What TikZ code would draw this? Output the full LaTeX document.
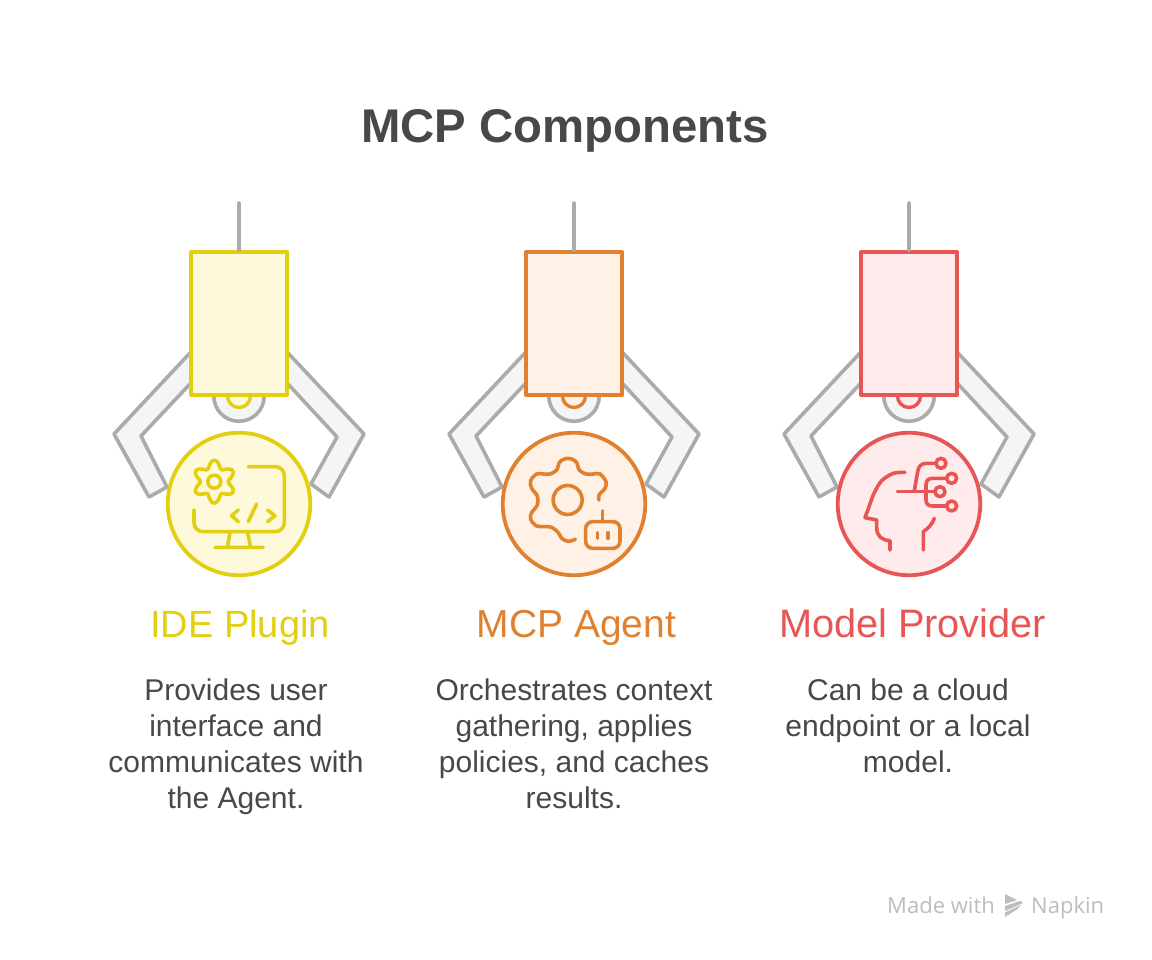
\documentclass[tikz,border=0pt]{standalone}
\usepackage{fontspec}
\setmainfont{Liberation Sans}
\newfontfamily\wmfont{Open Sans}
\definecolor{txt}{HTML}{484848}
\definecolor{armgray}{HTML}{ABABAB}
\definecolor{armfill}{HTML}{F5F5F5}
\definecolor{wm}{HTML}{BDBDBD}
\definecolor{ylw}{HTML}{E2CF12}
\definecolor{ylwf}{HTML}{FFF9DB}
\definecolor{org}{HTML}{E0812F}
\definecolor{orgf}{HTML}{FFF1E5}
\definecolor{rdd}{HTML}{E85555}
\definecolor{rddf}{HTML}{FFEBEB}
\tikzset{
  armline/.style={draw=armgray,line width=3.6pt,line join=round,fill=armfill},
  rod/.style={draw=armgray,line width=3.4pt,line cap=round},
  icon/.style={line width=3.6pt,line cap=round,line join=round},
  titletext/.style={font=\fontsize{47.3}{52}\bfseries\selectfont,text=txt,inner sep=0pt,anchor=base},
  headtext/.style={inner sep=0pt,anchor=base},
  bodytext/.style={font=\fontsize{30}{36}\selectfont,text=txt,align=center,inner sep=0pt,anchor=north},
  wmtext/.style={font=\wmfont\fontsize{22}{24}\selectfont,text=wm,inner sep=0pt,anchor=base west}
}
% #1 centre x, #2 stroke colour, #3 fill colour, #4 name suffix
\newcommand{\gripper}[4]{%
  \begin{scope}[xshift=#1 pt]
    \draw[armline] (-49,-151) -- (-125,-70) -- (-90,-7) -- (-72,-17) -- (-98,-68) -- (-49,-120);
    \draw[armline] (49,-151) -- (125,-70) -- (90,-7) -- (72,-20) -- (98,-67) -- (49,-120);
    \node[circle,draw=armgray,line width=3.6pt,fill=armfill,minimum size=50.5pt,inner sep=0pt] (socket#4) at (0,-108) {};
    \node[circle,draw=#2,line width=3.4pt,fill=#3,minimum size=23pt,inner sep=0pt] (pin#4) at (0,-108) {};
    \coordinate (rodtop#4) at (0,-301);
    \node[draw=#2,line width=4pt,fill=#3,minimum width=95.7pt,minimum height=143pt,inner sep=0pt,line join=round] (box#4) at (0,-180.5) {};
    \draw[rod] (rodtop#4) -- (box#4.north);
    \node[circle,draw=#2,line width=3.8pt,fill=#3,minimum size=142.5pt,inner sep=0pt] (disc#4) at (0,0) {};
  \end{scope}}
\begin{document}
\begin{tikzpicture}[x=1pt,y=-1pt]
\useasboundingbox (0,0) rectangle (1152,960);
\fill[white] (0,0) rectangle (1152,960);
\node[titletext] (title) at (565,143) {MCP Components};

\begin{scope}[yshift=-504pt]
\gripper{239}{ylw}{ylwf}{a}
\gripper{574}{org}{orgf}{b}
\gripper{909}{rdd}{rddf}{c}
\end{scope}

% Icon 1
\begin{scope}[shift={(100,340)},x=0.3333pt,y=-0.3333pt,icon,draw=ylw]
  \draw (343,425) circle (6.5pt);
  \draw plot[domain=0:360,samples=145,smooth] ({343+(53+11*cos(6*\x))*cos(\x+30)},{425+(53+11*cos(6*\x))*sin(\x+30)}) -- cycle;
  \draw[rounded corners=9pt] (445,380) -- (553,380) -- (553,575) -- (282,575) -- (282,510);
  \draw (390,578) -- (382,622) (443,578) -- (452,622) (345,622) -- (490,622);
  \draw (415,510) -- (395,527) -- (415,545);
  \draw (470,492) -- (445,545);
  \draw (503,510) -- (525,527) -- (503,545);
\end{scope}

% Icon 2
\begin{scope}[shift={(490,420)},x=0.3333pt,y=-0.3333pt,icon,draw=org]
  \draw (233,240) circle (14.5pt);
  \draw plot[smooth,tension=0.6] coordinates {
    (256,358) (235,364) (215,355) (205,338) (185,322) (165,320) (140,318) (122,298)
    (125,278) (142,255) (142,228) (125,205) (122,182) (140,162) (160,162) (180,162)
    (200,150) (210,125) (235,115) (258,125) (268,150) (288,162) (310,162) (330,162)
    (348,185) (345,205) (327,225) (327,240)};
  \draw[rounded corners=7pt] (287,305) rectangle (390,385);
  \draw (338,272) -- (338,305);
  \draw (322,338) -- (322,355) (354,338) -- (354,355);
\end{scope}

% Icon 3
\begin{scope}[shift={(825,420)},x=0.3333pt,y=-0.3333pt,icon,draw=rdd]
  \draw plot[smooth,tension=0.5] coordinates {(240,157) (205,160) (170,182) (147,220) (133,258)};
  \draw (133,258) -- (120,293) -- (155,300) -- (155,325);
  \draw (155,325) .. controls (157,350) and (170,360) .. (195,362) -- (195,390);
  \draw (295,390) -- (295,335) .. controls (310,325) and (320,315) .. (328,295);
  \draw (217,215) -- (331,215);
  \draw (268,212) -- (278,155) .. controls (280,140) and (288,130) .. (305,130) -- (333,130);
  \draw (365,175) -- (322,175) .. controls (310,175) and (303,182) .. (303,195) -- (303,240) .. controls (303,252) and (310,258) .. (322,258) -- (365,258);
  \draw (348,130) circle (5pt) (380,175) circle (5pt) (345,215) circle (5pt) (380,258) circle (5pt);
\end{scope}

\node[headtext,text=ylw,font=\fontsize{38}{42}\selectfont] (h1) at (240,637) {IDE Plugin};
\node[headtext,text=org,font=\fontsize{39}{42}\selectfont] (h2) at (576.5,637) {MCP Agent};
\node[headtext,text=rdd,font=\fontsize{39.7}{42}\selectfont] (h3) at (912.5,637) {Model Provider};

\node[bodytext] (b1) at (236,679) {Provides user\\interface and\\communicates with\\the Agent.};
\node[bodytext] (b2) at (574,679) {Orchestrates context\\gathering, applies\\policies, and caches\\results.};
\node[bodytext] (b3) at (908,679) {Can be a cloud\\endpoint or a local\\model.};

\node[wmtext] (wm1) at (887,913) {Made with};
\node[wmtext] (wm2) at (1031,913) {Napkin};
\fill[wm] (1005,894) -- (1017,900) -- (1005,904) -- cycle;
\fill[wm] (1005,906) -- (1020,901) -- (1023,903) -- (1005,911) -- cycle;
\fill[wm] (1005,912.5) -- (1021,905) -- (1017,909.5) -- (1005,917) -- cycle;
\end{tikzpicture}
\end{document}
